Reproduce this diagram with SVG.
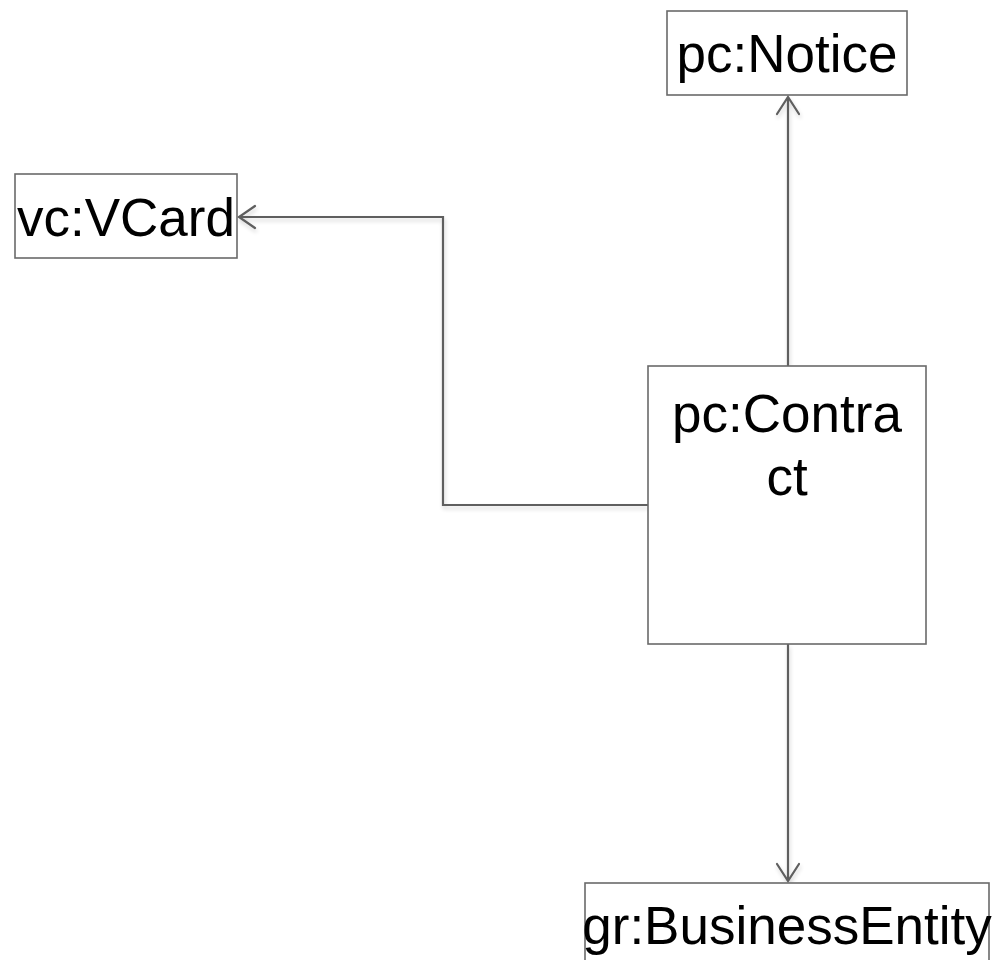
<svg xmlns="http://www.w3.org/2000/svg" width="998" height="960" viewBox="0 0 998 960">
  <defs>
    <style>
      .box { fill: #ffffff; stroke: #6a6a6a; stroke-width: 1.6; }
      .label { font-family: "Liberation Sans", Arial, sans-serif; font-size: 53px; fill: #000000; text-anchor: middle; }
      .edge { fill: none; stroke: #5e5e5e; stroke-width: 2.2; }
      .head { fill: none; stroke: #5e5e5e; stroke-width: 2.2; stroke-linecap: round; stroke-linejoin: miter; }
    </style>
    <filter id="soft" x="-10%" y="-10%" width="120%" height="120%">
      <feGaussianBlur in="SourceAlpha" stdDeviation="2"/>
      <feOffset dx="1" dy="3" result="blur"/>
      <feComponentTransfer><feFuncA type="linear" slope="0.18"/></feComponentTransfer>
      <feMerge><feMergeNode/><feMergeNode in="SourceGraphic"/></feMerge>
    </filter>
  </defs>

  <rect width="998" height="960" fill="#ffffff"/>

  <!-- connectors -->
  <g id="connectors" filter="url(#soft)">
    <!-- contract -> notice -->
    <path class="edge" d="M788 366 V97"/>
    <path class="head" d="M777 114 L788 97 L799 114"/>
    <!-- contract -> vcard -->
    <path class="edge" d="M648 505 H443 V217 H239"/>
    <path class="head" d="M255 206 L239 217 L255 228"/>
    <!-- contract -> business entity -->
    <path class="edge" d="M788 644 V881"/>
    <path class="head" d="M777 864 L788 881 L799 864"/>
  </g>

  <g id="notice">
    <rect class="box" x="667" y="11" width="240" height="84"/>
    <text class="label" x="787" y="72">pc:Notice</text>
  </g>

  <g id="vcard">
    <rect class="box" x="15" y="174" width="222" height="84"/>
    <text class="label" x="126" y="236">vc:VCard</text>
  </g>

  <g id="contract">
    <rect class="box" x="648" y="366" width="278" height="278"/>
    <text class="label" x="787" y="432">pc:Contra</text>
    <text class="label" x="787" y="495">ct</text>
  </g>

  <g id="business-entity">
    <rect class="box" x="585" y="883" width="404" height="100"/>
    <text class="label" x="787" y="944">gr:BusinessEntity</text>
  </g>
</svg>
